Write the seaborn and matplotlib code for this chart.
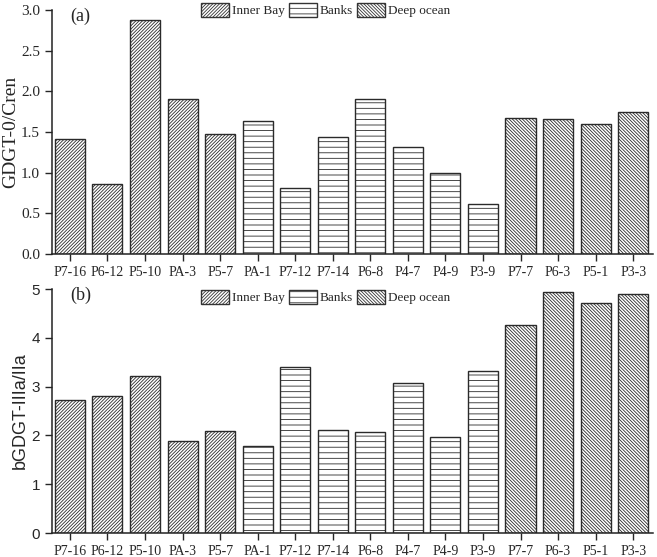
import matplotlib
matplotlib.use("Agg")
import matplotlib.pyplot as plt
from matplotlib.patches import Patch
import pandas as pd
import seaborn as sns

# sample stations, grouped by setting
samples = ["P7-16", "P6-12", "P5-10", "PA-3", "P5-7",
           "PA-1", "P7-12", "P7-14", "P6-8", "P4-7", "P4-9", "P3-9",
           "P7-7", "P6-3", "P5-1", "P3-3"]
groups = ["Inner Bay"] * 5 + ["Banks"] * 7 + ["Deep ocean"] * 4

gdgt0_cren = [1.42, 0.86, 2.88, 1.90, 1.47,
              1.64, 0.81, 1.44, 1.90, 1.31, 0.99, 0.61,
              1.67, 1.66, 1.60, 1.74]
iiia_iia = [2.73, 2.81, 3.21, 1.88, 2.10,
            1.78, 3.41, 2.12, 2.07, 3.08, 1.97, 3.33,
            4.26, 4.94, 4.72, 4.90]

group_names = ["Inner Bay", "Banks", "Deep ocean"]
hatches = {"Inner Bay": "/" * 10, "Banks": "---", "Deep ocean": "\\" * 10}

df = pd.DataFrame({"sample": samples, "group": groups,
                   "a": gdgt0_cren, "b": iiia_iia})

sns.set_style("ticks")
plt.rcParams["font.family"] = ["Liberation Serif", "DejaVu Serif"]
plt.rcParams["hatch.linewidth"] = 0.6
plt.rcParams["hatch.color"] = "#666666"

fig = plt.figure(figsize=(6.57, 5.57), dpi=100)
ax1 = fig.add_axes([0.079, 0.544, 0.915, 0.438])
ax2 = fig.add_axes([0.079, 0.043, 0.915, 0.438])


def draw_panel(ax, col, ymax, yticks, ylabel, tag, leg_y, sans=False):
    sns.barplot(data=df, x="sample", y=col, color="white", width=0.8,
                edgecolor="#2a2a2a", linewidth=1.0, ax=ax)
    for patch, g in zip(ax.patches, groups):
        patch.set_hatch(hatches[g])
        patch.set_facecolor("white")
    ax.set_xlim(-0.48, 15.53)
    ax.set_ylim(0, ymax)
    ax.set_yticks(yticks)
    ax.set_xlabel("")
    if sans:
        ax.set_ylabel(ylabel, fontsize=13, family=["Liberation Sans"], labelpad=2)
        ax.set_yticklabels([str(t) for t in yticks], family=["Liberation Sans"])
    else:
        ax.set_ylabel(ylabel, fontsize=14, labelpad=1)
        ax.set_yticklabels([f"{t:.1f}" for t in yticks])
    ax.tick_params(axis="y", labelsize=11, length=5, width=1.0, direction="out")
    ax.tick_params(axis="x", labelsize=10, length=5, width=1.0, direction="out")
    sns.despine(ax=ax)
    for s in ["left", "bottom"]:
        ax.spines[s].set_linewidth(1.1)
        ax.spines[s].set_color("#222222")
    ax.text(0.02, ymax * 0.975, tag, fontsize=13, va="center")
    handles = [Patch(facecolor="white", edgecolor="#333333", hatch=hatches[g],
                     label=g) for g in group_names]
    ax.legend(handles=handles, ncol=3, frameon=False, loc="center left",
              bbox_to_anchor=(0.248, leg_y), fontsize=9.5, handlelength=2.1,
              handleheight=1.3, handletextpad=0.25, columnspacing=0.3,
              borderaxespad=0, borderpad=0)


draw_panel(ax1, "a", 3.0, [0.0, 0.5, 1.0, 1.5, 2.0, 2.5, 3.0],
           "GDGT-0/Cren", "(a)", 1.0)
draw_panel(ax2, "b", 5, [0, 1, 2, 3, 4, 5], "bGDGT-IIIa/IIa", "(b)", 0.967,
           sans=True)

fig.savefig("out.png", dpi=100)
